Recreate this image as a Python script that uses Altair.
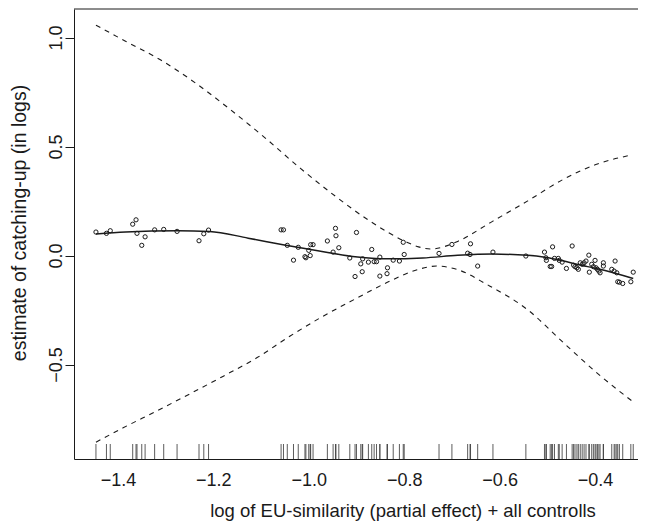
import altair as alt
import pandas as pd

# scatter points (partial residuals)
pt_x = [-1.446, -1.424, -1.416, -1.369, -1.362, -1.360, -1.343, -1.350, -1.323, -1.304,
        -1.276, -1.230, -1.220, -1.210,
        -1.058, -1.053, -1.045, -1.022, -1.032, -1.008, -1.006, -0.997, -1.000, -0.996,
        -0.991, -0.961, -0.944, -0.943, -0.937, -0.949, -0.914, -0.900, -0.887, -0.891,
        -0.875, -0.868, -0.863, -0.858, -0.903, -0.888, -0.851, -0.851, -0.835, -0.836,
        -0.823, -0.810, -0.802, -0.800, -0.727, -0.700,
        -0.661, -0.667, -0.662, -0.646, -0.614, -0.545, -0.506, -0.503, -0.502, -0.494,
        -0.491, -0.489, -0.485, -0.477, -0.475, -0.469, -0.460, -0.448, -0.445, -0.442,
        -0.438, -0.435, -0.431, -0.427, -0.423, -0.419, -0.413, -0.412, -0.407, -0.4035,
        -0.400, -0.398, -0.395, -0.392, -0.3895, -0.3826, -0.3826, -0.365, -0.360, -0.3545,
        -0.358, -0.3524, -0.349, -0.342, -0.325, -0.320]
pt_y = [0.108, 0.102, 0.114, 0.144, 0.164, 0.102, 0.086, 0.047, 0.118, 0.120,
        0.111, 0.068, 0.100, 0.117,
        0.118, 0.118, 0.047, 0.038, -0.021, -0.005, -0.010, 0.000, 0.024, 0.050,
        0.050, 0.067, 0.125, 0.091, 0.036, 0.016, -0.011, 0.106, -0.015, -0.038,
        -0.030, 0.028, -0.028, -0.028, -0.096, -0.074, -0.007, -0.094, -0.056, -0.083,
        -0.021, -0.025, 0.061, 0.005, 0.010, 0.051,
        0.054, 0.011, 0.005, -0.048, 0.016, -0.002, 0.016, -0.010, -0.022, -0.050,
        -0.050, 0.040, -0.013, -0.013, -0.022, -0.030, -0.059, 0.044, -0.044, -0.051,
        -0.056, -0.063, -0.033, -0.040, -0.033, -0.025, 0.002, -0.076, -0.040, -0.051,
        -0.022, -0.056, -0.063, -0.071, -0.079, -0.033, -0.048, -0.063, -0.071, -0.079,
        -0.025, -0.120, -0.122, -0.128, -0.120, -0.076]

# fitted smooth
fit_x = [-1.446, -1.384, -1.274, -1.208, -1.127, -1.054, -0.981, -0.908, -0.835, -0.761,
         -0.688, -0.615, -0.541, -0.505, -0.468, -0.438, -0.390, -0.320]
fit_y = [0.099, 0.108, 0.114, 0.111, 0.080, 0.050, 0.022, -0.004, -0.015, -0.011,
         0.001, 0.007, 0.001, -0.008, -0.024, -0.040, -0.063, -0.105]

# upper confidence band
up_x = [-1.446, -1.384, -1.311, -1.237, -1.164, -1.091, -1.018, -0.944, -0.871, -0.798,
        -0.770, -0.743, -0.715, -0.688, -0.615, -0.541, -0.468, -0.395, -0.322]
up_y = [1.057, 0.983, 0.898, 0.791, 0.669, 0.539, 0.401, 0.272, 0.157, 0.065,
        0.040, 0.030, 0.042, 0.065, 0.157, 0.251, 0.348, 0.420, 0.462]

# lower confidence band
lo_x = [-1.446, -1.389, -1.319, -1.249, -1.179, -1.109, -1.039, -0.970, -0.900, -0.830,
        -0.781, -0.732, -0.690, -0.627, -0.541, -0.468, -0.395, -0.322]
lo_y = [-0.856, -0.790, -0.713, -0.634, -0.553, -0.469, -0.369, -0.278, -0.196, -0.117,
        -0.071, -0.048, -0.063, -0.132, -0.249, -0.396, -0.540, -0.668]

x_ticks = [-1.4, -1.2, -1.0, -0.8, -0.6, -0.4]
y_ticks = [-0.5, 0.0, 0.5, 1.0]
x_domain = [-1.492, -0.310]
y_domain = [-0.933, 1.131]
x_title = "log of EU-similarity (partial effect) + all controlls"
y_title = "estimate of catching-up (in logs)"

FONT = "Liberation Sans"
INK = "#1a1a1a"

pts = pd.DataFrame({"x": pt_x, "y": pt_y})
fit = pd.DataFrame({"x": fit_x, "y": fit_y})
up = pd.DataFrame({"x": up_x, "y": up_y})
lo = pd.DataFrame({"x": lo_x, "y": lo_y})

x_axis = alt.Axis(values=x_ticks, format=".1f", ticks=False, grid=False,
                  domainColor=INK, domainWidth=1,
                  labelFont=FONT, labelFontSize=18, labelColor=INK, labelPadding=12,
                  title=x_title, titleFont=FONT, titleFontSize=18.5, titleFontWeight="normal",
                  titleColor=INK, titleX=328.5, titleY=57.5, titleBaseline="alphabetic",
                  titleAlign="center")
y_axis = alt.Axis(values=y_ticks, format=".1f", grid=False, tickSize=9, tickColor=INK,
                  tickWidth=1, domainColor=INK, domainWidth=1,
                  labelFont=FONT, labelFontSize=18, labelColor=INK, labelAngle=270,
                  labelAlign="center", labelBaseline="alphabetic", labelPadding=4,
                  title=y_title, titleFont=FONT, titleFontSize=19.5, titleFontWeight="normal",
                  titleColor=INK, titleAngle=270, titleX=-48.5, titleY=213.5,
                  titleBaseline="alphabetic", titleAlign="center")

y_scale = alt.Scale(domain=y_domain, nice=False, zero=False)
X = alt.X("x:Q", scale=alt.Scale(domain=x_domain, nice=False, zero=False), axis=x_axis)
Y = alt.Y("y:Q", scale=y_scale, axis=y_axis)

points = alt.Chart(pts).mark_point(shape="circle", filled=False, size=18, strokeWidth=1,
                                   color=INK, opacity=1).encode(x=X, y=Y)
fit_line = alt.Chart(fit).mark_line(color=INK, strokeWidth=1.5,
                                    interpolate="monotone").encode(x=X, y=Y)
up_line = alt.Chart(up).mark_line(color=INK, strokeWidth=1.1, strokeDash=[5, 5],
                                  interpolate="monotone").encode(x=X, y=Y)
lo_line = alt.Chart(lo).mark_line(color=INK, strokeWidth=1.1, strokeDash=[5, 5],
                                  interpolate="monotone").encode(x=X, y=Y)
rug = alt.Chart(pts).mark_rule(color="#333", strokeWidth=1, opacity=0.8).encode(
    x=X, y=alt.value(435), y2=alt.value(450))
# upper edge of the plot frame: a horizontal rule at the top of the y range
frame_top = alt.Chart(pd.DataFrame({"k": [0]})).mark_rule(
    color=INK, strokeWidth=1).encode(y=alt.datum(y_domain[1], scale=y_scale))

chart = alt.layer(rug, up_line, lo_line, fit_line, points, frame_top).properties(
    width=564, height=450,
    padding={"left": 66, "top": 1, "right": 0, "bottom": 62},
    autosize=alt.AutoSizeParams(type="none"),
).configure_view(stroke="transparent", strokeWidth=0)

chart.save("out.html", embed_options={"renderer": "svg", "actions": False})
